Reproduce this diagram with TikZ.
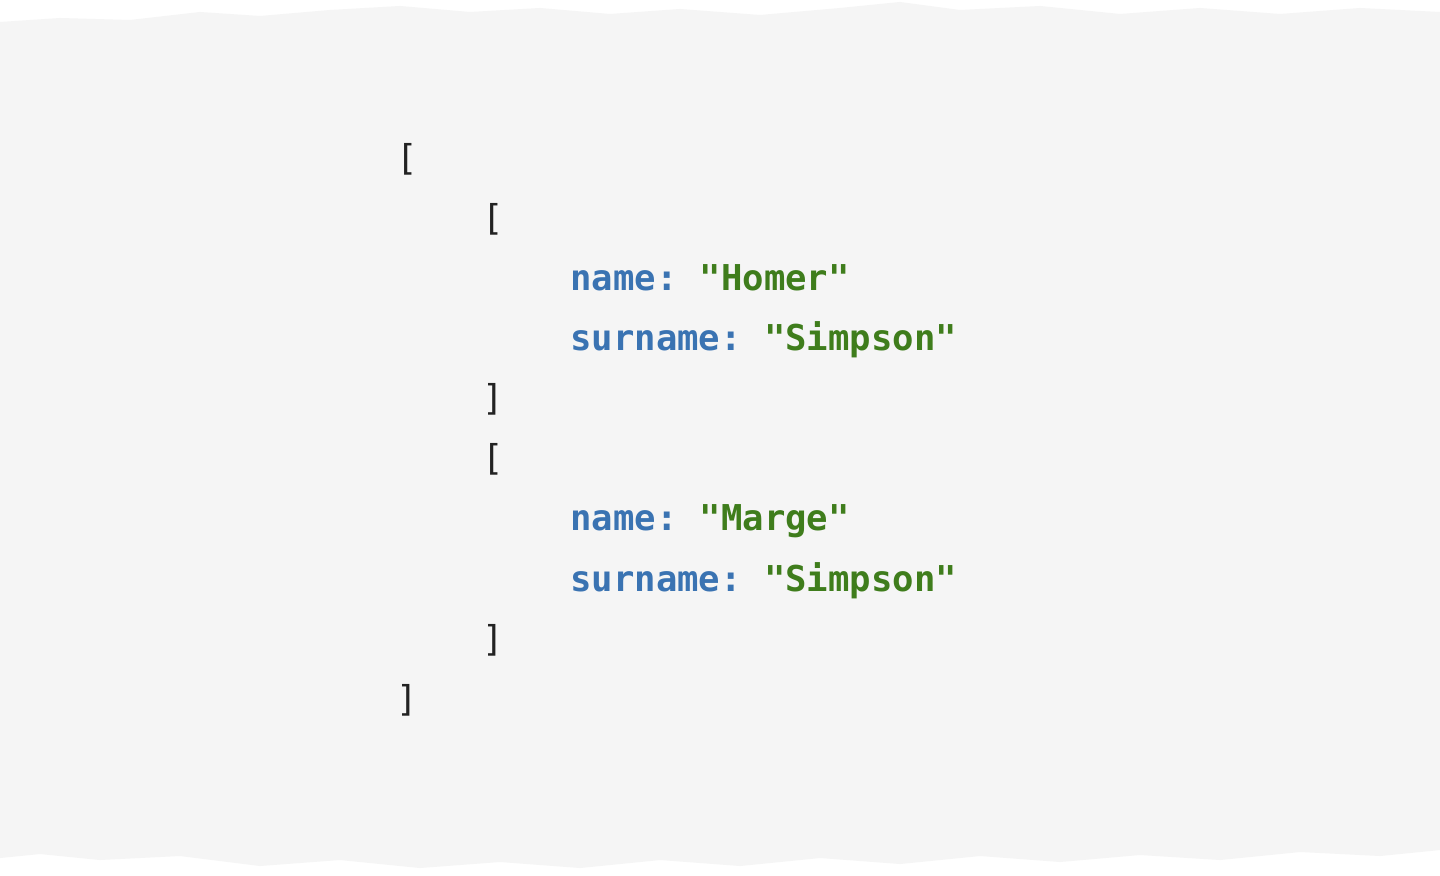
\documentclass[tikz,border=0pt]{standalone}
\usepackage{fontspec}
\setmonofont{DejaVu Sans Mono}
\usetikzlibrary{positioning}
\definecolor{paper}{HTML}{F5F5F5}
\definecolor{keyblue}{HTML}{3A73B2}
\definecolor{strgreen}{HTML}{3F7D1C}
\definecolor{brack}{HTML}{222222}

\begin{document}
\begin{tikzpicture}[x=0.5pt,y=-0.5pt,
  code/.style={anchor=base west,inner sep=0pt,font=\ttfamily\bfseries\fontsize{17.8pt}{20pt}\selectfont},
  key/.style={code,text=keyblue},
  str/.style={code,text=strgreen},
  br/.style={code,text=brack,font=\ttfamily\fontsize{17.8pt}{20pt}\selectfont}]

\useasboundingbox (0,0) rectangle (1440,876);
\fill[white] (0,0) rectangle (1440,876);

% torn paper
\fill[paper] (0,22) -- (60,18) -- (130,20) -- (200,12) -- (260,16) -- (330,10)
  -- (400,6) -- (470,12) -- (540,8) -- (610,14) -- (680,9) -- (760,15)
  -- (840,8) -- (900,2) -- (960,10) -- (1040,6) -- (1120,14) -- (1200,8)
  -- (1280,14) -- (1360,8) -- (1440,12)
  -- (1440,850) -- (1380,856) -- (1300,852) -- (1220,860) -- (1140,855)
  -- (1060,862) -- (980,856) -- (900,864) -- (820,858) -- (740,866)
  -- (660,860) -- (580,868) -- (500,862) -- (420,868) -- (340,860)
  -- (260,866) -- (180,856) -- (100,860) -- (40,854) -- (0,858) -- cycle;

% code lines
\node[br] (open) at (396,171) {[};
\node[br] (open1) at (482,231) {[};
\node[key] (k1) at (570,291) {name:};
\node[str,right=10.7pt of k1.base east,anchor=base west] (v1) {"Homer"};
\node[key] (k2) at (570,351) {surname:};
\node[str,right=10.7pt of k2.base east,anchor=base west] (v2) {"Simpson"};
\node[br] (close1) at (482,411) {]};
\node[br] (open2) at (482,471) {[};
\node[key] (k3) at (570,531) {name:};
\node[str,right=10.7pt of k3.base east,anchor=base west] (v3) {"Marge"};
\node[key] (k4) at (570,591) {surname:};
\node[str,right=10.7pt of k4.base east,anchor=base west] (v4) {"Simpson"};
\node[br] (close2) at (482,651) {]};
\node[br] (close) at (396,711) {]};
\end{tikzpicture}
\end{document}
